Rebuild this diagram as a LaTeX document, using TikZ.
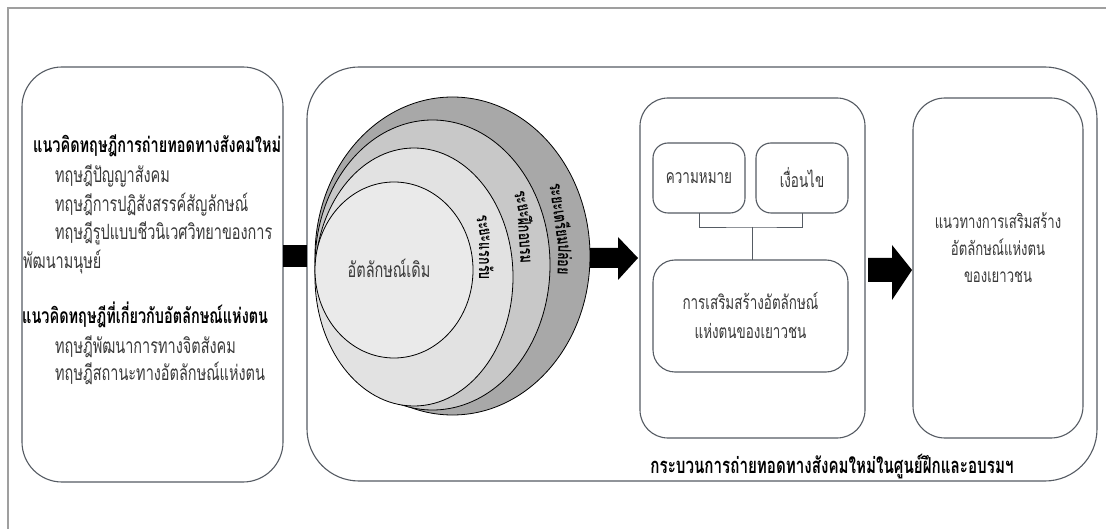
\documentclass[tikz,border=0pt]{standalone}
\usepackage{fontspec}
\newfontfamily\thai[Script=Thai,FakeStretch=0.69]{Loma}
\definecolor{txt}{HTML}{3A3A3A}
\definecolor{edge}{HTML}{555B63}
\definecolor{ring1}{HTML}{A8A8A8}
\definecolor{ring2}{HTML}{C8C8C8}
\definecolor{ring3}{HTML}{E2E2E2}
\definecolor{ring4}{HTML}{EAEAEA}
\begin{document}
\begin{tikzpicture}[x=1pt,y=-1pt,
  rbox/.style={draw=edge, line width=1.1pt, inner sep=0pt, outer sep=0pt, fill=white},
  th/.style={font=\thai\fontsize{21}{28}\selectfont, text=txt, inner sep=0pt},
  thm/.style={font=\thai\fontsize{19.5}{29}\selectfont, text=txt, inner sep=0pt},
  thb/.style={font=\thai\bfseries\fontsize{21}{28}\selectfont, text=black, inner sep=0pt},
  ringlbl/.style={font=\thai\bfseries\fontsize{18}{20}\selectfont, text=black, inner sep=0pt},
  blk/.style={fill=black}]
\useasboundingbox (0,0) rectangle (1106,529);
\fill[white] (0,0) rectangle (1106,529);
% outer frame
\draw[gray!75, line width=1.5pt] (8,529) -- (8,8) -- (1106,8);

% boxes
\node[rbox, rounded corners=40pt, minimum width=261pt, minimum height=415pt] (left) at (152.5,274.5) {};
\node[rbox, rounded corners=52pt, minimum width=790pt, minimum height=414pt] (big) at (702,274) {};
\node[rbox, rounded corners=28pt, minimum width=225pt, minimum height=340pt] (mid) at (752.5,268) {};
\node[rbox, rounded corners=32pt, minimum width=170pt, minimum height=340pt] (right) at (998,268) {};
\node[rbox, rounded corners=15pt, minimum width=92pt, minimum height=70pt] (k1) at (699,178) {};
\node[rbox, rounded corners=15pt, minimum width=92pt, minimum height=70pt] (k2) at (802,178) {};
\node[rbox, rounded corners=22pt, minimum width=195pt, minimum height=112pt] (kb) at (750.5,316) {};

% bracket connector
\coordinate (j) at (752,227);
\draw[edge, line width=0.8pt] (k1.south) |- (j) -| (k2.south);
\draw[edge, line width=0.8pt] (j) -- (kb.north -| j);

% left block
\fill[blk] (283,245) rectangle (307,267);

% ellipses
\draw[black, line width=0.8pt, fill=ring1] (452.5,256) ellipse [x radius=137.5, y radius=159];
\draw[black, line width=0.8pt, fill=ring2] (432.5,265) ellipse [x radius=117.5, y radius=145];
\draw[black, line width=0.8pt, fill=ring3] (414,277) ellipse [x radius=99, y radius=129];
\draw[black, line width=0.8pt, fill=ring4] (394,270) ellipse [x radius=79, y radius=88];

% arrows
\fill[blk] (590,248) -- (618,248) -- (618,237) -- (638,258) -- (618,280) -- (618,268) -- (590,268) -- cycle;
\fill[blk] (868,258) -- (892,258) -- (892,245) -- (912,270) -- (892,300) -- (892,282) -- (868,282) -- cycle;

% left box texts
\node[thb, anchor=base west] (t1) at (33,153) {แนวคิดทฤษฎีการถ่ายทอดทางสังคมใหม่};
\node[th, anchor=base west] (t2) at (55,183) {ทฤษฎีปัญญาสังคม};
\node[th, anchor=base west] (t3) at (55,212) {ทฤษฎีการปฏิสังสรรค์สัญลักษณ์};
\node[th, anchor=base west] (t4) at (55,240) {ทฤษฎีรูปแบบชีวนิเวศวิทยาของการ};
\node[th, anchor=base west] (t5) at (23,269) {พัฒนามนุษย์};
\node[thb, anchor=base west] (t6) at (22,324) {แนวคิดทฤษฎีที่เกี่ยวกับอัตลักษณ์แห่งตน};
\node[th, anchor=base west] (t7) at (55,353) {ทฤษฎีพัฒนาการทางจิตสังคม};
\node[th, anchor=base west] (t8) at (55,381) {ทฤษฎีสถานะทางอัตลักษณ์แห่งตน};

% circle texts
\node[th] (core) at (389,268) {อัตลักษณ์เดิม};
% ring labels, in two pieces following an arc
\node[ringlbl, anchor=east, rotate=-79] (r1a) at ([shift={(252,270)}]-6.65:236) {ระยะ};
\node[ringlbl, anchor=west, rotate=-90] (r1b) at ([shift={(252,270)}]-6.65:236) {แรกรับ};
\node[ringlbl, anchor=east, rotate=-76.6] (r2a) at ([shift={(244,270)}]-10.5:286) {ระยะ};
\node[ringlbl, anchor=west, rotate=-86.4] (r2b) at ([shift={(244,270)}]-10.5:286) {ฝึกอบรม};
\node[ringlbl, anchor=east, rotate=-82] (r3a) at ([shift={(201.5,270)}]-4:365) {ระยะเตรียม};
\node[ringlbl, anchor=west, rotate=-92] (r3b) at ([shift={(201.5,270)}]-4:365) {ปล่อย};

% middle texts
\node[thm] at (k1) {ความหมาย};
\node[thm] at (k2) {เงื่อนไข};
\node[thm, align=center] at (kb) {การเสริมสร้างอัตลักษณ์\\แห่งตนของเยาวชน};
\node[thm, align=center, font=\thai\fontsize{19}{27}\selectfont] at (998,248) {แนวทางการเสริมสร้าง\\อัตลักษณ์แห่งตน\\ของเยาวชน};

% bottom label
\node[thb, anchor=base, font=\thai\bfseries\fontsize{22}{24}\selectfont] (bl) at (832,473) {กระบวนการถ่ายทอดทางสังคมใหม่ในศูนย์ฝึกและอบรมฯ};
\end{tikzpicture}
\end{document}
